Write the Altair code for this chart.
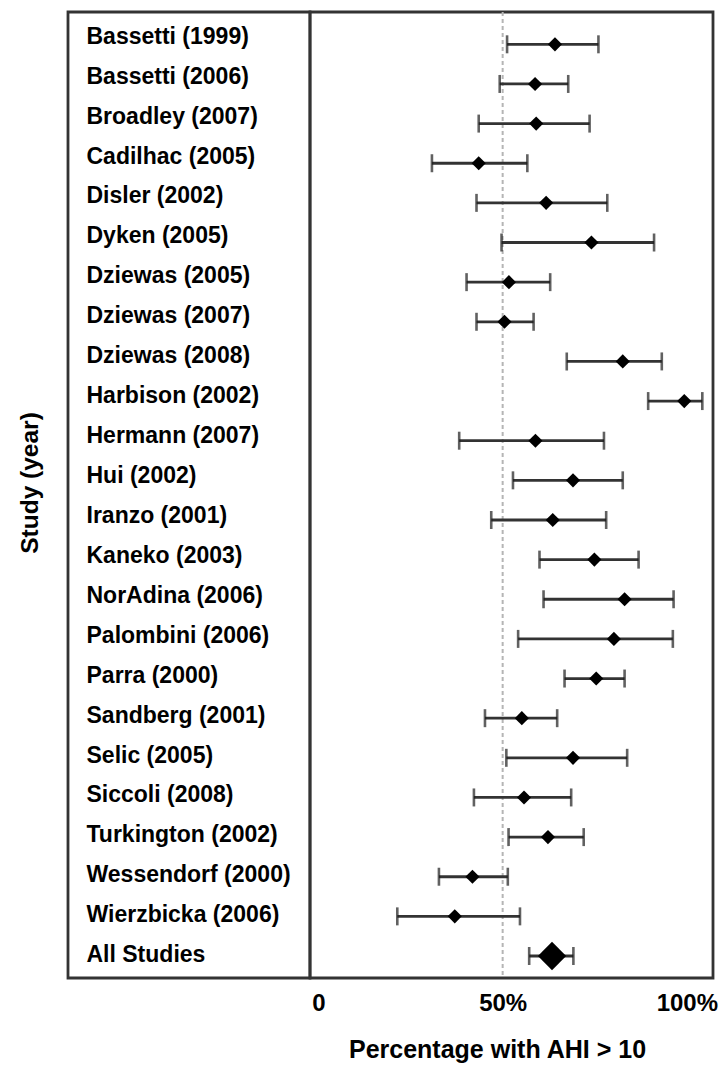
import altair as alt
import pandas as pd

# ---- data ----
studies = [
    "Bassetti (1999)", "Bassetti (2006)", "Broadley (2007)", "Cadilhac (2005)",
    "Disler (2002)", "Dyken (2005)", "Dziewas (2005)", "Dziewas (2007)",
    "Dziewas (2008)", "Harbison (2002)", "Hermann (2007)", "Hui (2002)",
    "Iranzo (2001)", "Kaneko (2003)", "NorAdina (2006)", "Palombini (2006)",
    "Parra (2000)", "Sandberg (2001)", "Selic (2005)", "Siccoli (2008)",
    "Turkington (2002)", "Wessendorf (2000)", "Wierzbicka (2006)", "All Studies",
]
estimate = [64.2, 58.8, 59.1, 43.5, 61.8, 74.1, 51.7, 50.5, 82.6, 99.3, 58.9, 69.1,
            63.6, 74.9, 83.1, 80.2, 75.4, 55.2, 69.1, 55.8, 62.3, 41.8, 37.0, 63.4]
lower = [51.2, 49.2, 43.5, 30.8, 42.9, 49.7, 40.2, 42.9, 67.4, 89.5, 38.2, 52.8,
         46.9, 60.0, 61.1, 54.2, 66.8, 45.2, 51.0, 42.2, 51.6, 32.7, 21.4, 57.2]
upper = [76.0, 67.8, 73.6, 56.7, 78.4, 91.1, 62.9, 58.4, 93.2, 104.2, 77.5, 82.6,
         78.1, 86.9, 96.4, 96.2, 83.1, 64.8, 83.8, 68.6, 72.0, 51.4, 54.7, 69.2]
summary_label = "All Studies"
ref_lines = [50]
x_ticks = [0, 50, 100]
x_tick_labels = ["0", "50%", "100%"]
x_domain = [-2.3, 107.1]

df = pd.DataFrame({"study": studies, "est": estimate, "lo": lower, "hi": upper})
ref_df = pd.DataFrame({"ref": ref_lines})

FONT = "Liberation Sans"

label_expr = "''"
for v, t in reversed(list(zip(x_ticks, x_tick_labels))):
    label_expr = f"datum.value == {v} ? '{t}' : ({label_expr})"

xscale = alt.Scale(domain=x_domain, nice=False, zero=False)
yscale_r = alt.Scale(type="point", domain=studies, padding=0.685, align=0.595)
yscale_l = alt.Scale(type="point", domain=studies, padding=0.595, align=0.51)

xaxis = alt.Axis(
    values=x_ticks, labelExpr=label_expr, ticks=False, domain=False, grid=False,
    labelFont=FONT, labelFontSize=24, labelFontWeight="bold", labelColor="black",
    labelPadding=13, labelFlush=False,
    title="Percentage with AHI > 10", titleFont=FONT, titleFontSize=25,
    titleFontWeight="bold", titleColor="black", titleX=187, titleY=79,
    titleAlign="center", titleBaseline="alphabetic",
)

y_r = alt.Y("study:N", scale=yscale_r, axis=None, sort=studies)

base = alt.Chart(df)

ref = alt.Chart(ref_df).mark_rule(color="#b5b5b5", strokeWidth=2, strokeDash=[4, 3]).encode(
    x=alt.X("ref:Q", scale=xscale, axis=xaxis)
)
bars = base.mark_rule(color="#333333", strokeWidth=2.8).encode(
    x=alt.X("lo:Q", scale=xscale, axis=xaxis), x2="hi:Q", y=y_r
)
caps_lo = base.mark_tick(color="#1e1e1e", thickness=2.6, size=18).encode(
    x=alt.X("lo:Q", scale=xscale, axis=xaxis), y=y_r
)
caps_hi = base.mark_tick(color="#1e1e1e", thickness=2.6, size=18).encode(
    x=alt.X("hi:Q", scale=xscale, axis=xaxis), y=y_r
)
pts = base.transform_filter(alt.datum.study != summary_label).mark_point(
    shape="diamond", filled=True, color="black", opacity=1, size=200
).encode(x=alt.X("est:Q", scale=xscale, axis=xaxis), y=y_r)
summ = base.transform_filter(alt.datum.study == summary_label).mark_point(
    shape="diamond", filled=True, color="black", opacity=1, size=800
).encode(x=alt.X("est:Q", scale=xscale, axis=xaxis), y=y_r)

right = alt.layer(ref, bars, caps_lo, caps_hi, pts, summ).properties(width=403, height=966)

left = alt.Chart(df).mark_point(opacity=0).encode(
    y=alt.Y(
        "study:N", scale=yscale_l, sort=studies,
        axis=alt.Axis(
            title="Study (year)", orient="left", ticks=False, tickSize=0, domain=False,
            grid=False, labelAlign="left", labelBaseline="middle", labelPadding=-18,
            labelFont=FONT, labelFontSize=23, labelFontWeight="bold", labelColor="black",
            labelLimit=400, labelOverlap=False,
            titleFont=FONT, titleFontSize=24.5, titleFontWeight="bold", titleColor="black",
            titleX=-31, titleY=470.5, titleAngle=270, titleAlign="center",
            titleBaseline="alphabetic",
        ),
    )
).properties(width=242, height=966)

chart = (
    alt.hconcat(left, right, spacing=0, bounds="flush")
    .properties(padding={"left": 15, "top": 9, "right": 0, "bottom": 0})
    .configure(font=FONT)
    .configure_view(stroke="#333333", strokeWidth=2.8)
)

chart.save("out.html", embed_options={"renderer": "svg", "actions": False})
